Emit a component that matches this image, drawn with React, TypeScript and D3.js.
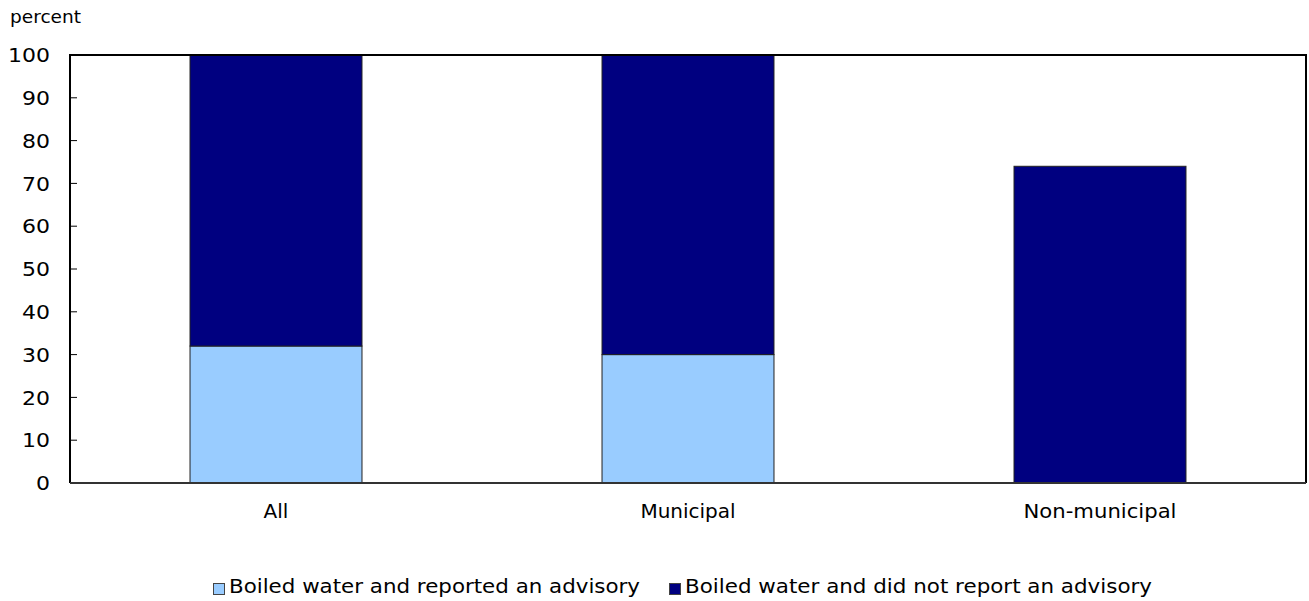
import React from "react";
import * as d3 from "d3";

const categories = ["All", "Municipal", "Non-municipal"];
const reportedAdvisory = [32, 30, 0];
const noAdvisory = [68, 70, 74];
const yTicks = [0, 10, 20, 30, 40, 50, 60, 70, 80, 90, 100];
const seriesNames = [
  "Boiled water and reported an advisory",
  "Boiled water and did not report an advisory",
];
const seriesColors = ["#99ccff", "#000080"];

export default function App() {
  const W = 1309;
  const H = 601;
  const left = 70;
  const right = 1306;
  const top = 55;
  const bottom = 483;
  const x = d3.scaleBand<string>().domain(categories).range([left, right]).paddingInner(0.5826).paddingOuter(0.2913);
  const y = d3.scaleLinear().domain([0, 100]).range([bottom, top]);
  const stackData = categories.map((c, i) => ({ cat: c, a: reportedAdvisory[i], b: noAdvisory[i] }));
  const stack = d3.stack<any>().keys(["a", "b"])(stackData);
  const font = "Verdana, 'DejaVu Sans', sans-serif";
  const legendX = [213, 669];
  const legendLen = [411, 467];
  return (
    <svg width={W} height={H} style={{ position: "absolute", left: 0, top: 0, background: "#fff" }}>
      <text x={10} y={23} fontFamily={font} fontSize={18} fill="#000" textLength={71} lengthAdjust="spacingAndGlyphs">percent</text>
      {stack.map((s, si) =>
        s.map((d, i) =>
          d[1] - d[0] > 0 ? (
            <rect
              key={si + "-" + i}
              x={x(categories[i])!}
              y={y(d[1])}
              width={x.bandwidth()}
              height={y(d[0]) - y(d[1])}
              fill={seriesColors[si]}
              stroke="#222"
              strokeWidth={1}
            />
          ) : null
        )
      )}
      <path d={`M${left},${bottom}V${top}H${right}V${bottom}`} fill="none" stroke="#000" strokeWidth={2} />
      <line x1={left} x2={right} y1={bottom} y2={bottom} stroke="#333" strokeWidth={2} />
      {yTicks.map((t) => (
        <g key={t}>
          {t > 0 && t < 100 ? <line x1={left} x2={left + 7} y1={y(t)} y2={y(t)} stroke="#000" strokeWidth={1} /> : null}
          <text x={50} y={y(t)} dy="0.36em" textAnchor="end" fontFamily={font} fontSize={20} fill="#000"
            textLength={String(t).length * 14} lengthAdjust="spacingAndGlyphs">{t}</text>
        </g>
      ))}
      {categories.map((c) => (
        <text key={c} x={x(c)! + x.bandwidth() / 2} y={518} textAnchor="middle" fontFamily={font} fontSize={20} fill="#000"
          textLength={c === "Non-municipal" ? 153 : undefined} lengthAdjust="spacingAndGlyphs">{c}</text>
      ))}
      {seriesNames.map((n, i) => {
        const lx = legendX[i];
        return (
          <g key={n}>
            <rect x={lx + 0.5} y={583.5} width={11} height={11} fill={seriesColors[i]} stroke="#444" strokeWidth={1} />
            <text x={lx + 16} y={593} fontFamily={font} fontSize={19} fill="#000"
              textLength={legendLen[i]} lengthAdjust="spacingAndGlyphs">{n}</text>
          </g>
        );
      })}
    </svg>
  );
}
